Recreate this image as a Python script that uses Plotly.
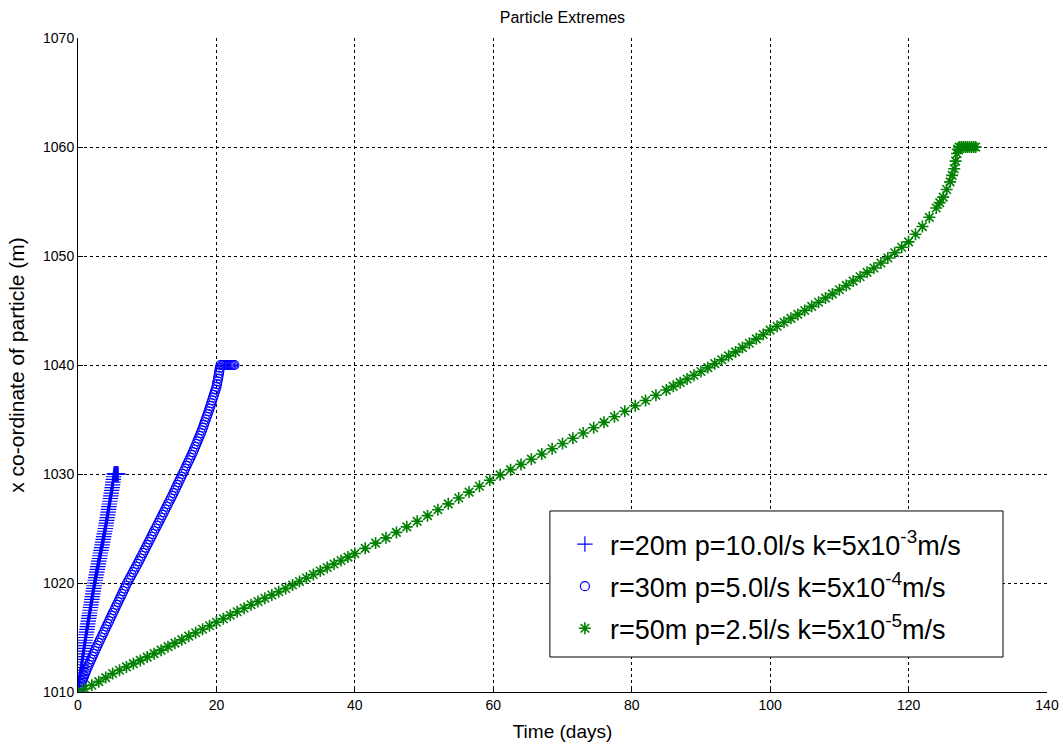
import plotly.graph_objects as go

# Series 1: r=20m, p=10.0 l/s, k=5e-3 m/s  (time in days, x co-ordinate in m)
plus_days = [0.00, 0.04, 0.08, 0.11, 0.15, 0.21, 0.28, 0.34, 0.40, 0.46, 0.52, 0.58,
             0.63, 0.69, 0.75, 0.81, 0.87, 0.92, 0.98, 1.04, 1.10, 1.16, 1.23, 1.29,
             1.36, 1.42, 1.49, 1.55, 1.62, 1.68, 1.75, 1.81, 1.88, 1.94, 2.01, 2.07,
             2.14, 2.20, 2.27, 2.33, 2.40, 2.48, 2.55, 2.63, 2.71, 2.79, 2.86, 2.94,
             3.02, 3.10, 3.17, 3.25, 3.33, 3.41, 3.48, 3.56, 3.64, 3.72, 3.79, 3.87,
             3.95, 4.02, 4.08, 4.15, 4.21, 4.28, 4.35, 4.41, 4.48, 4.54, 4.61, 4.67,
             4.74, 4.81, 4.87, 4.94, 5.00, 5.05, 5.10, 5.15,
             5.20, 5.30, 5.40, 5.50, 5.60, 5.70, 5.80]
plus_x = [1010.00, 1010.25, 1010.50, 1010.75, 1011.00, 1011.25, 1011.50, 1011.75,
          1012.00, 1012.25, 1012.50, 1012.75, 1013.00, 1013.25, 1013.50, 1013.75,
          1014.00, 1014.25, 1014.50, 1014.75, 1015.00, 1015.25, 1015.50, 1015.75,
          1016.00, 1016.25, 1016.50, 1016.75, 1017.00, 1017.25, 1017.50, 1017.75,
          1018.00, 1018.25, 1018.50, 1018.75, 1019.00, 1019.25, 1019.50, 1019.75,
          1020.00, 1020.25, 1020.50, 1020.75, 1021.00, 1021.25, 1021.50, 1021.75,
          1022.00, 1022.25, 1022.50, 1022.75, 1023.00, 1023.25, 1023.50, 1023.75,
          1024.00, 1024.25, 1024.50, 1024.75, 1025.00, 1025.25, 1025.50, 1025.75,
          1026.00, 1026.25, 1026.50, 1026.75, 1027.00, 1027.25, 1027.50, 1027.75,
          1028.00, 1028.25, 1028.50, 1028.75, 1029.00, 1029.25, 1029.50, 1029.75,
          1030.00, 1030.00, 1030.00, 1030.00, 1030.00, 1030.00, 1030.00]

# Series 2: r=30m, p=5.0 l/s, k=5e-4 m/s
circle_days = [0.00, 0.15, 0.30, 0.45, 0.60, 0.75, 0.90, 1.05, 1.20, 1.38, 1.55, 1.73,
               1.90, 2.08, 2.25, 2.43, 2.60, 2.79, 2.98, 3.16, 3.35, 3.54, 3.73, 3.91,
               4.10, 4.29, 4.48, 4.66, 4.85, 5.04, 5.23, 5.41, 5.60, 5.79, 5.98, 6.16,
               6.35, 6.54, 6.73, 6.91, 7.10, 7.31, 7.53, 7.74, 7.95, 8.16, 8.38, 8.59,
               8.80, 9.00, 9.20, 9.40, 9.60, 9.80, 10.00, 10.20, 10.40, 10.60, 10.80, 11.00,
               11.20, 11.40, 11.60, 11.80, 12.00, 12.20, 12.40, 12.60, 12.80, 13.00, 13.20, 13.40,
               13.60, 13.79, 13.98, 14.16, 14.35, 14.54, 14.73, 14.91, 15.10, 15.29, 15.48, 15.66,
               15.85, 16.04, 16.23, 16.41, 16.60, 16.76, 16.93, 17.09, 17.25, 17.41, 17.58, 17.74,
               17.90, 18.04, 18.18, 18.31, 18.45, 18.59, 18.73, 18.86, 19.00, 19.13, 19.25, 19.38,
               19.50, 19.63, 19.75, 19.88, 20.00, 20.08, 20.15, 20.23, 20.30, 20.37, 20.43, 20.50,
               20.60, 20.80, 21.00, 21.20, 21.40, 21.60, 21.80, 22.00, 22.20, 22.40, 22.60]
circle_x = [1010.00, 1010.25, 1010.50, 1010.75, 1011.00, 1011.25, 1011.50, 1011.75,
            1012.00, 1012.25, 1012.50, 1012.75, 1013.00, 1013.25, 1013.50, 1013.75,
            1014.00, 1014.25, 1014.50, 1014.75, 1015.00, 1015.25, 1015.50, 1015.75,
            1016.00, 1016.25, 1016.50, 1016.75, 1017.00, 1017.25, 1017.50, 1017.75,
            1018.00, 1018.25, 1018.50, 1018.75, 1019.00, 1019.25, 1019.50, 1019.75,
            1020.00, 1020.25, 1020.50, 1020.75, 1021.00, 1021.25, 1021.50, 1021.75,
            1022.00, 1022.25, 1022.50, 1022.75, 1023.00, 1023.25, 1023.50, 1023.75,
            1024.00, 1024.25, 1024.50, 1024.75, 1025.00, 1025.25, 1025.50, 1025.75,
            1026.00, 1026.25, 1026.50, 1026.75, 1027.00, 1027.25, 1027.50, 1027.75,
            1028.00, 1028.25, 1028.50, 1028.75, 1029.00, 1029.25, 1029.50, 1029.75,
            1030.00, 1030.25, 1030.50, 1030.75, 1031.00, 1031.25, 1031.50, 1031.75,
            1032.00, 1032.25, 1032.50, 1032.75, 1033.00, 1033.25, 1033.50, 1033.75,
            1034.00, 1034.25, 1034.50, 1034.75, 1035.00, 1035.25, 1035.50, 1035.75,
            1036.00, 1036.25, 1036.50, 1036.75, 1037.00, 1037.25, 1037.50, 1037.75,
            1038.00, 1038.25, 1038.50, 1038.75, 1039.00, 1039.25, 1039.50, 1039.75,
            1040.00, 1040.00, 1040.00, 1040.00, 1040.00, 1040.00, 1040.00, 1040.00,
            1040.00, 1040.00, 1040.00]

# Series 3: r=50m, p=2.5 l/s, k=5e-5 m/s
star_days = [0, 1, 2, 3, 4, 5, 6, 7, 8, 9, 10, 11, 12, 13, 14, 15, 16, 17, 18, 19, 20,
             21, 22, 23, 24, 25, 26, 27, 28, 29, 30, 31, 32, 33, 34, 35, 36, 37, 38, 39, 40,
             41.5, 43, 44.5, 46, 47.5, 49, 50.5, 52, 53.5, 55, 56.5, 58, 59.5, 61, 62.5,
             64, 65.5, 67, 68.5, 70, 71.5, 73, 74.5, 76, 77.5, 79, 80.5, 82, 83.5, 85,
             86, 87, 88, 89, 90, 91, 92, 93, 94, 95, 96, 97, 98, 99, 100, 101, 102, 103,
             104, 105, 106, 107, 108, 109, 110, 111, 112, 113, 114, 115, 116, 117, 118,
             119, 120, 121, 122, 123, 124, 124.5, 125, 125.5, 126, 126.3, 126.6, 126.8,
             127, 127.1, 127.3, 127.6, 127.9, 128.2, 128.5, 128.8, 129.1, 129.4, 129.7]
star_x = [1010.00, 1010.30, 1010.62, 1010.95, 1011.32, 1011.70, 1012.00, 1012.30,
          1012.60, 1012.90, 1013.20, 1013.52, 1013.84, 1014.16, 1014.48, 1014.80,
          1015.12, 1015.44, 1015.76, 1016.08, 1016.40, 1016.72, 1017.04, 1017.36,
          1017.68, 1018.00, 1018.30, 1018.60, 1018.90, 1019.20, 1019.50, 1019.82,
          1020.14, 1020.46, 1020.78, 1021.10, 1021.42, 1021.74, 1022.06, 1022.38,
          1022.70, 1023.18, 1023.66, 1024.14, 1024.64, 1025.15, 1025.66, 1026.18,
          1026.72, 1027.26, 1027.80, 1028.34, 1028.88, 1029.42, 1029.92, 1030.40,
          1030.88, 1031.36, 1031.84, 1032.32, 1032.80, 1033.28, 1033.76, 1034.24,
          1034.74, 1035.25, 1035.76, 1036.26, 1036.74, 1037.22, 1037.70, 1038.04,
          1038.38, 1038.72, 1039.06, 1039.40, 1039.76, 1040.12, 1040.48, 1040.84,
          1041.20, 1041.60, 1042.00, 1042.40, 1042.80, 1043.20, 1043.56, 1043.92,
          1044.28, 1044.64, 1045.00, 1045.38, 1045.76, 1046.14, 1046.52, 1046.90,
          1047.30, 1047.70, 1048.10, 1048.50, 1048.90, 1049.36, 1049.82, 1050.30,
          1050.80, 1051.30, 1052.00, 1052.70, 1053.55, 1054.40, 1054.90, 1055.40,
          1056.10, 1056.80, 1057.40, 1058.00, 1058.70, 1059.40, 1059.80,
          1060.00, 1060.00, 1060.00, 1060.00, 1060.00, 1060.00, 1060.00, 1060.00, 1060.00]

legend_labels = [
    "r=20m p=10.0l/s k=5x10<sup>-3</sup>m/s",
    "r=30m p=5.0l/s k=5x10<sup>-4</sup>m/s",
    "r=50m p=2.5l/s k=5x10<sup>-5</sup>m/s",
]

x_ticks = [0, 20, 40, 60, 80, 100, 120, 140]
y_ticks = [1010, 1020, 1030, 1040, 1050, 1060, 1070]

BLUE = "#0000FF"
GREEN = "#008000"
FONT = "Liberation Sans, Arial, sans-serif"

fig = go.Figure()
fig.add_trace(go.Scatter(
    x=plus_days, y=plus_x, mode="markers", name=legend_labels[0], legendgroup="a",
    marker=dict(symbol="cross-thin-open", size=11, color=BLUE, line=dict(color=BLUE, width=1.2)),
))
fig.add_trace(go.Scatter(
    x=circle_days, y=circle_x, mode="markers", name=legend_labels[1], legendgroup="b",
    marker=dict(symbol="circle-open", size=9, color=BLUE, line=dict(color=BLUE, width=1.2)),
))
fig.add_trace(go.Scatter(
    x=star_days, y=star_x, mode="markers", name=legend_labels[2], legendgroup="c",
    marker=dict(symbol="asterisk-open", size=10, color=GREEN, line=dict(color=GREEN, width=1.6)),
))

axis_common = dict(
    showgrid=True, gridcolor="black", gridwidth=1, griddash="3px,3px",
    showline=True, linecolor="black", linewidth=1, mirror=False,
    ticks="inside", ticklen=5, tickcolor="black",
    zeroline=False, tickfont=dict(family=FONT, size=14, color="black"),
)

fig.update_xaxes(
    range=[0, 140], tickvals=x_ticks, ticktext=[str(v) for v in x_ticks],
    title=dict(text="Time (days)", font=dict(family=FONT, size=19, color="black"), standoff=12),
    **axis_common,
)
fig.update_yaxes(
    range=[1010, 1070], tickvals=y_ticks, ticktext=[str(v) for v in y_ticks],
    title=dict(text="x co-ordinate of particle (m)", font=dict(family=FONT, size=21, color="black"), standoff=12),
    **axis_common,
)

# Legend frame drawn as a rectangle in plot-area fractions; the legend itself sits inside it
fig.add_shape(
    type="rect", xref="paper", yref="paper",
    x0=0.487, x1=0.9546, y0=0.0535, y1=0.2768,
    line=dict(color="black", width=1), fillcolor="white", layer="above",
)

fig.update_layout(
    width=1063, height=750,
    margin=dict(l=78, r=16, t=38, b=58, autoexpand=False),
    paper_bgcolor="white", plot_bgcolor="white",
    title=dict(text="Particle Extremes", x=0.5291, xanchor="center", y=0.977, yanchor="middle",
               font=dict(family=FONT, size=16, color="black")),
    showlegend=True,
    legend=dict(
        x=0.487, y=0.263, xanchor="left", yanchor="top",
        bgcolor="rgba(0,0,0,0)", borderwidth=0,
        font=dict(family=FONT, size=27, color="black"),
        tracegroupgap=4, itemwidth=40, indentation=10,
    ),
)

fig.write_html("out.html")
